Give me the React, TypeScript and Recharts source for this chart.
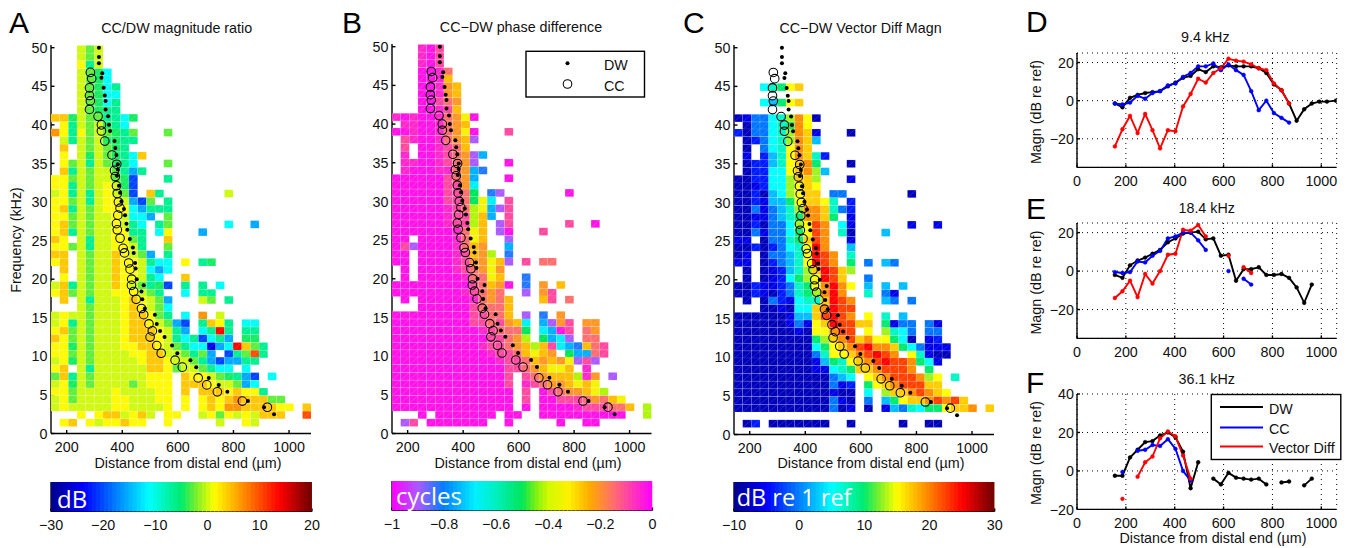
import React from 'react';
import {
  ScatterChart, Scatter, LineChart, Line, XAxis, YAxis, CartesianGrid,
} from 'recharts';

// column centres (um) and row centres (kHz) of the spatial maps
const mapDistances = [159.1, 190.3, 221.5, 252.7, 283.9, 315.1, 346.3, 377.5, 408.7, 439.9, 471.1, 502.3, 533.5, 564.7, 595.9, 627.1, 658.3, 689.5, 720.7, 751.9, 783.1, 814.3, 845.5, 876.7, 907.9, 939.1, 970.3, 1001.5, 1032.7, 1063.9];
const mapFreqs = [49.8, 48.8, 47.8, 46.8, 45.9, 44.9, 43.9, 42.9, 41.9, 40.9, 39.9, 39.0, 38.0, 37.0, 36.0, 35.0, 34.0, 33.0, 32.1, 31.1, 30.1, 29.1, 28.1, 27.1, 26.1, 25.1, 24.2, 23.2, 22.2, 21.2, 20.2, 19.2, 18.2, 17.3, 16.3, 15.3, 14.3, 13.3, 12.3, 11.3, 10.3, 9.4, 8.4, 7.4, 6.4, 5.4, 4.4, 3.4, 2.4, 1.4];

// each row is one frequency, each letter one column; '.' means no data
const magnitudeLevels = { B: -25, b: -20.5, s: -15.5, c: -11, t: -6.5, g: -4.5, l: -2.8, k: 0, y: 1.5, a: 4, o: 6.5, d: 10, r: 13.5 };
const magnitudeRows = [
  '...klk', '...klk', '...ytk', '...klgc', '...klgc', '...klgct', '...klgcc', '...klgct', '...klgtt',
  'aagkllttcg', '.ytklkgtc', 'oytylklgtl...l', '.ktklkggtt', '.a.klklgt', '.y.kgklgtca', '.ylktklgtc...l',
  '.atklkkltst', 'yylklkklgb...t', 'yytklkykgb', 'kytktkyklb.at.......k', 'yylktkyyksbl.t', 'yatklkyyycsttt',
  'yylklkkykccs.l', 'yalklkkyktc.tl......c..s', 'yatklkkyytt.cy...s', 'ay.ktkkyylt..a', 'yylktkkyykt..l',
  'aa.klkkaykls.t', 'ya.klkkayyktcc.y.tg', '.a.klkkayykcsc', '.y.klkkayyktc..a', 'katklkkaykltgb.t.t.c',
  'yalklkkyyyklt..c.tt', '.a.ktkkkyaykls...kl.t', '...klkkkyayklc', 'kykklkkkyaaylt.c.o.k', 'kytklkkkyaayklsb.tayt.cc',
  'yalklkkkyaaaykts.ctrt.tt', 'aylklkkkyaaayktctbcts.gg', 'yygklkkkyyaaykltccBscralt', 'yylklkkkkyyaakkltls.btldt',
  'kygklkkkkkyaaykkltsbsstt', 'ya.ktkkkkkkaaylkkltcc.c', 'latklkkkkkkyyy.ayyklgtsb.c', 'kygklkkkklkyyy.aaaykklsc',
  'yylkkkkykkkkyy.a.aaayayyt', 'kylkkkkyykkkyy.y.yayaoaaall', 'kykkkkkyykkkky.y.yayooaaaayy.a', '...y.yaakyak.yy..kylykykaaa..d',
  '.ya.ykyyayy..y.....k..yk',
];

const phaseLevels = { m: -0.025, p: -0.055, k: -0.1, n: -0.15, o: -0.21, a: -0.26, y: -0.34, l: -0.42, g: -0.5, c: -0.67, s: -0.75, b: -0.82, v: -0.9 };
const phaseRows = [
  '...pmk', '...pmk', '...pmk', '...mmpn', '...mmpa', '...mmpoa', '...mmpoa', '...mmkno', '...mmpka',
  'pmpmmpnoym', '.ppmmpnoa', 'mmpmmpnoym...k', '.kpmmpnoav', '.k.mmpkna', '.p.mmpknovs', '.ppmmpknov...m',
  '.pmmmppnosb', 'mmmmmmknos...m', 'mmmmmmkkoc', 'mmmmmmkkng.bv.......m', 'mmmmmmkkngyc.k', 'mmmmmmpknlysvk',
  'mmmmmmpkklas.k', 'mmmmmmpkkla.vk......k..m', 'mmmmmmmpnya.vm...k', 'mm.mmmmpnya..v', 'mkvmmmmpnao..s',
  'mm.mmmmpkaol.b', 'mm.mmmmpkooyav.k.nn', '.m.mmmmpknoyo', '.m.mmmmmpnnya..b', 'mmmmmmmmmknaom.b.o.a',
  'mmmmmmmmpknon..v.ok', '.m.mmmmmmpnona...ak.n', '...mmmmmmknnna', 'mmmmmmmmmkknna.v.b.o', 'mmmmmmmmmkknkoac.svok.oo',
  'mmmmmmmmmmpknnng.csmk.no', 'mmmmmmmmmmmkknol.gscv.nn', 'mmmmmmmmmmpkknoalakcsbank', 'mmmmmmmmmmmpkknayao.gssnk',
  'mmmmmmmmmmmmpkknaoaoyvkv', 'mmmmmmmmmmmmmkknoayya.p', 'mmmmmmmmmmmmmk.knoaaalpo.v', 'mmmmmmmmmmmmmk.pknooayay',
  'mmmmmmmmmmmmmm.k.mknooayl', 'mmmmmmmmmmmmmm.k.mmkkknonay', 'mmmmmmmmmmmmmm.m.mmmmpkkknna.l', '...m.mmmmmmm.mm..mmmmmmmmmm..l',
  '.vk.mmmmmmm..m.....m..mm',
];

const vectorLevels = { D: -8, B: -6, b: -4, s: -0.4, e: 2.4, c: 5, t: 7, g: 10, l: 13, y: 15, a: 17, o: 19.5, d: 22.5, r: 25 };
const vectorRows = [
  '', '', '', '', '', '...ctgya', '', '...cegya', '',
  'DBssctloyD', '.Dssctgoy', 'bDssctloaB...D', '.Dbsctloae', '.D.sctyoa', '.B.betyoatb', '.Dbbetyaog...D',
  '.Dbbccyaole', 'DDbbcclaal...B', 'DDBbcclyay', 'DDbDeclyaa.ss.......D', 'DDbBeegyaayt.b', 'DDsBsetlooatsb',
  'DDBBsetgooag.B', 'DDbDssclydo.cB......B..B', 'DDsBsscgydo.tD...e', 'BB.Dsstgado..B', 'DDbDbsctyro..e',
  'DB.Dssetyrdo.t', 'BB.Dbsetyrdo.g.s.es', '.D.DBbetlardal', '.D.DBbcglyrda..s', 'DDbBBbstgyoroy.e.e.e',
  'DDbBDbstgloro..t.sB', '.D.DsbBcttardo...es.s', '...DDBDccaordd', 'DDDDDDBeeadrdo.y.t.e', 'DDDDDDBsByarddaa.gBss.sB',
  'DDDDDDDBDyyodd.y.ltcs.ss', 'DDDDDDDDDglaodaoyygcD.Bb', 'DDDDDDDDDcgyaodrooagcsBBB', 'DDDDDDDDDstyyaodrdo.ytBDD',
  'DDDDDDDDDBegtyaodrddogcB', 'DDDDDDDDDBBctgaaodddo.g', 'DDDDDDDDDDDsec.yaodddoly.t', 'DDDDDDDDDDDsBb.gyaodddaa',
  'DDDDDDDDDDDBDD.c.laaodoay', 'DDDDDDDDDDDsBD.s.egyaaododa', 'DDDDDDDDDDDsDB.D.Bestcggyaao.a', '',
  '.Db.DDDDDDD..D.....D..DD',
];

// best frequency places, [distance um, frequency kHz]
const dwPlace = [[316, 50], [316, 48.8], [316, 48], [328, 46.7], [325, 46.1], [333, 44.8], [337, 43.8], [340, 43.1], [340, 42], [349, 41.1], [352, 40], [356, 39.2], [372, 37.9], [375, 37], [379, 36.1], [384, 34.9], [384, 34.2], [381, 33.4], [388, 32.1], [392, 31.2], [397, 30.1], [406, 29.1], [410, 28.3], [415, 27.2], [418, 26.4], [427, 25.2], [438, 24.1], [441, 23.4], [446, 22.1], [448, 21.4], [452, 20], [477, 19.2], [469, 18.4], [472, 17.4], [481, 16.2], [517, 15.4], [524, 14.2], [536, 13.3], [552, 12.5], [579, 11.4], [598, 10.4], [645, 9.5], [666, 8.6], [711, 7.2], [747, 6.3], [778, 5.4], [852, 4.2], [910, 3.4], [946, 2.5]];
const ccPlace = [[285, 46.8], [290, 46], [282, 44.8], [282, 43.8], [285, 43.1], [282, 42], [313, 41.1], [325, 40], [325, 39.2], [337, 37.9], [363, 36.1], [380, 34.9], [372, 34.1], [375, 33.3], [379, 32.1], [382, 31.1], [386, 30], [392, 29.2], [384, 28.3], [379, 27.2], [382, 26.4], [392, 25.3], [403, 24], [408, 23.4], [423, 22.1], [428, 21.3], [434, 20], [433, 19.2], [441, 18.4], [450, 17.4], [469, 16.2], [477, 15.4], [496, 14.2], [508, 13.3], [500, 12.5], [524, 11.4], [540, 10.4], [590, 9.5], [616, 8.6], [673, 7.2], [704, 6.3], [742, 5.4], [832, 4.2], [922, 3.4]];

// magnitude against distance
const distances = [155, 186, 217, 248, 279, 309, 340, 372, 403, 434, 465, 496, 527, 558, 589, 620, 651, 682, 713, 744, 775, 806, 837, 868, 899, 930, 961, 992, 1023, 1060];
const _ = null;
const dw94 = [-1.5, -3.5, 1.5, 3, 4, 4.5, 5, 7.5, 9.5, 12, 13, 16.5, 15, 18, 17.5, 18.5, 18, 18, 18, 17, 14.5, 8.5, 5.5, -1.5, -10.5, -4.5, -1.5, -0.5, -0.5, 0];
const cc94 = [-1.5, -2, -1, 2.5, 1, 4, 5, 8, 9, 12.5, 14.5, 18, 18, 19.5, 16, 19, 16, 13.5, 5, -5, 0, -6.5, -9, -11.5, _, _, _, _, _, _];
const vd94 = [-24, -15, -8, -17, -7, -15.5, -25, -15.5, -16, -3, 3.5, 11.5, 9.5, 14.5, 17, 22, 21, 20.5, 19, 17, 16, 9, 5.5, -1.5, _, _, _, _, _, _];
const dw184 = [-2, -3.5, 3, 5.5, 7, 9, 11, 15, 17, 19.5, 20, 20.5, 16.5, 17, 8, 8.5, -5, 1, 1, 2, -2, -2, -1.5, -3.5, -8.5, -16.5, -7, _, _, _];
const cc184 = [-0.5, -1, -0.5, 5, 4.5, 8, 10.5, 17, 18, 20, 20, 16, 11, _, _, 0, _, -4, -7, _, _, _, _, _, _, _, _, _, _, _];
const vd184 = [-14, -10.5, -5, -13.5, -1.5, -6.5, 0, 8.5, 9, 21.5, 21, 24, 18, _, _, 8, _, 2, -1, _, _, _, _, _, _, _, _, _, _, _];
const dw361 = [-2.5, -2.5, 7, 11, 15, 15.5, 18.5, 20, 17.5, 10, -9, 4.5, _, -4, -7, -1, -3.5, -4, -4.5, -4, -7, _, -6, -5.5, _, -7.5, -4, _, _, _];
const cc361 = [_, -0.5, _, 10.5, 11, 13.5, 13, 16.5, 11.5, 0, -5, _, _, _, _, _, _, _, _, _, _, _, _, _, _, _, _, _, _, _];
const vd361 = [_, -14.5, _, -3, 4.5, 7.5, 17, 20.5, 18, 8, -4, _, _, _, _, _, _, _, _, _, _, _, _, _, _, _, _, _, _, _];

const mapXTicks = [200, 400, 600, 800, 1000];
const mapYTicks = [0, 5, 10, 15, 20, 25, 30, 35, 40, 45, 50];
const lineXTicks = [0, 200, 400, 600, 800, 1000];

const FONT = '"Liberation Sans", Arial, sans-serif';
const INK = '#111';
const CELL_W = 8.667;
const CELL_H = 7.63;

type Stop = [number, number, number, number];
const jetMap: Stop[] = [
  [0, 0, 0, 140], [0.125, 0, 0, 255], [0.25, 0, 128, 255], [0.375, 0, 255, 255], [0.5, 0, 235, 110],
  [0.56, 130, 240, 40], [0.625, 255, 255, 0], [0.75, 255, 128, 0], [0.875, 255, 0, 0], [1, 110, 0, 0],
];
const phaseMap: Stop[] = [
  [0, 255, 0, 255], [0.1, 170, 90, 255], [0.2, 0, 128, 255], [0.32, 0, 240, 255], [0.4, 0, 240, 190],
  [0.5, 0, 230, 90], [0.55, 120, 240, 20], [0.6, 210, 250, 0], [0.68, 255, 240, 0], [0.76, 255, 170, 0],
  [0.85, 255, 110, 110], [0.93, 255, 50, 190], [1, 255, 0, 255],
];

function colorAt(map: Stop[], t: number) {
  const u = Math.max(0, Math.min(1, t));
  let i = 0;
  while (i < map.length - 2 && u > map[i + 1][0]) i++;
  const a = map[i], b = map[i + 1];
  const f = (u - a[0]) / (b[0] - a[0]);
  const c = [1, 2, 3].map((k) => Math.round(a[k] + (b[k] - a[k]) * f));
  return `rgb(${c[0]},${c[1]},${c[2]})`;
}

function buildCells(rows: string[], levels: Record<string, number>) {
  const cells: { x: number; y: number; v: number }[] = [];
  rows.forEach((row, r) => {
    row.split('').forEach((ch, c) => {
      if (ch !== '.') cells.push({ x: mapDistances[c], y: mapFreqs[r], v: levels[ch] });
    });
  });
  return cells;
}

const fmt = (v: number) => String(v).replace('-', '\u2212');
const tickStyle = { fill: INK, fontSize: 14.3, fontFamily: FONT };
const axisLine = { stroke: '#000', strokeWidth: 1.4 };

function box(ticksX: number[], ticksY: number[], domainX: number[], domainY: number[]) {
  return [
    <XAxis key="xt" xAxisId="top" orientation="top" type="number" domain={domainX} ticks={ticksX} interval={0} height={0} tick={false} tickSize={-3.5} axisLine={axisLine} tickLine={axisLine} />,
    <YAxis key="yr" yAxisId="right" orientation="right" type="number" domain={domainY} ticks={ticksY} interval={0} width={0} tick={false} tickSize={-3.5} axisLine={axisLine} tickLine={axisLine} />,
  ];
}

type MapProps = {
  left: number; right: number; top: number; bottom: number;
  rows: string[]; levels: Record<string, number>; cmap: Stop[]; range: number[];
};

function MapPanel({ left, right, top, bottom, rows, levels, cmap, range }: MapProps) {
  const cells = buildCells(rows, levels);
  const xd = [143.5, 1079];
  const yd = [0, 50.35];
  const drawCell = (p: any) => {
    const t = (p.payload.v - range[0]) / (range[1] - range[0]);
    const x = p.cx - CELL_W / 2, y = p.cy - CELL_H / 2;
    return (
      <g>
        <rect x={x} y={y} width={CELL_W} height={CELL_H} fill={colorAt(cmap, t)} stroke="#fff" strokeOpacity={0.2} strokeWidth={0.6} />
        <line x1={x} y1={y + CELL_H} x2={x + CELL_W} y2={y} stroke="#fff" strokeOpacity={0.25} strokeWidth={0.6} />
      </g>
    );
  };
  return (
    <div style={{ position: 'absolute', left: left - 40, top: top - 4 }}>
      <ScatterChart width={right - left + 46} height={bottom - top + 28} margin={{ top: 4, right: 6, left: 0, bottom: 0 }}>
        <XAxis type="number" dataKey="x" domain={xd} ticks={mapXTicks} interval={0} height={24} tickSize={-3.5} tickMargin={12} tick={tickStyle} axisLine={axisLine} tickLine={axisLine} allowDataOverflow />
        <YAxis type="number" dataKey="y" domain={yd} ticks={mapYTicks} interval={0} width={40} tickSize={-3.5} tickMargin={7} tick={tickStyle} axisLine={axisLine} tickLine={axisLine} allowDataOverflow />
        {box(mapXTicks, mapYTicks, xd, yd)}
        <Scatter data={cells} isAnimationActive={false} shape={drawCell} />
        <Scatter
          data={dwPlace.map(([x, y]) => ({ x, y }))}
          isAnimationActive={false}
          shape={(p: any) => <circle cx={p.cx} cy={p.cy} r={2} fill="#000" />}
        />
        <Scatter
          data={ccPlace.map(([x, y]) => ({ x, y }))}
          isAnimationActive={false}
          shape={(p: any) => <circle cx={p.cx} cy={p.cy} r={4.3} fill="none" stroke="#000" strokeWidth={1.05} />}
        />
      </ScatterChart>
    </div>
  );
}

type BarProps = { left: number; right: number; top: number; bottom: number; cmap: Stop[]; range: number[]; ticks: number[] };

function ColorBar({ left, right, top, bottom, cmap, range, ticks }: BarProps) {
  const n = 64;
  const w = (right - left) / n;
  const h = bottom - top;
  const bands = Array.from({ length: n }, (_x, i) => ({ x: range[0] + ((i + 0.5) / n) * (range[1] - range[0]), y: 0.5, t: (i + 0.5) / n }));
  return (
    <div style={{ position: 'absolute', left: left - 30, top: top - 4 }}>
      <ScatterChart width={right - left + 60} height={h + 28} margin={{ top: 4, right: 30, left: 0, bottom: 0 }}>
        <XAxis type="number" dataKey="x" domain={range} ticks={ticks} interval={0} height={24} tickSize={-3} tickMargin={11.5} tick={tickStyle} tickFormatter={fmt} axisLine={axisLine} tickLine={axisLine} allowDataOverflow />
        <YAxis type="number" dataKey="y" domain={[0, 1]} ticks={[]} width={30} tick={false} axisLine={axisLine} tickLine={false} />
        <Scatter
          data={bands}
          isAnimationActive={false}
          shape={(p: any) => <rect x={p.cx - w / 2} y={p.cy - h / 2} width={p.payload.t > 0.99 ? w : w + 1} height={h} fill={colorAt(cmap, p.payload.t)} />}
        />
        <XAxis xAxisId="top" orientation="top" type="number" domain={range} ticks={ticks} interval={0} height={0} tick={false} tickSize={-3} axisLine={axisLine} tickLine={axisLine} />
        <YAxis yAxisId="right" orientation="right" type="number" domain={[0, 1]} ticks={[]} width={0} tick={false} axisLine={axisLine} tickLine={false} />
      </ScatterChart>
    </div>
  );
}

type MagnProps = { top: number; bottom: number; dw: (number | null)[]; cc: (number | null)[]; vd: (number | null)[]; domain: number[]; yTicks: number[] };

function MagnPanel({ top, bottom, dw, cc, vd, domain, yTicks }: MagnProps) {
  const table = distances.map((x, i) => ({ x, dw: dw[i], cc: cc[i], vd: vd[i] }));
  const series: [string, string][] = [['dw', '#000'], ['cc', '#0000ff'], ['vd', '#ff0000']];
  return (
    <div style={{ position: 'absolute', left: 1037, top: top - 10 }}>
      <LineChart data={table} width={304} height={bottom - top + 34} margin={{ top: 10, right: 4.3, left: 0, bottom: 0 }}>
        <CartesianGrid stroke="#000" strokeDasharray="1 4" strokeWidth={1} />
        <XAxis type="number" dataKey="x" domain={[0, 1063]} ticks={lineXTicks} interval={0} height={24} tickSize={-3} tickMargin={11.5} tick={tickStyle} axisLine={axisLine} tickLine={axisLine} allowDataOverflow />
        <YAxis type="number" domain={domain} ticks={yTicks} interval={0} width={40} tickSize={-3} tickMargin={6} tick={tickStyle} tickFormatter={fmt} axisLine={axisLine} tickLine={axisLine} allowDataOverflow />
        {series.map(([key, color]) => (
          <Line
            key={key}
            dataKey={key}
            stroke={color}
            strokeWidth={1.9}
            connectNulls={false}
            isAnimationActive={false}
            dot={{ r: 1.9, fill: color, stroke: color, strokeWidth: 0.5 }}
          />
        ))}
      </LineChart>
    </div>
  );
}

const T = ({ x, y, size = 14.3, anchor = 'middle', fill = INK, family = FONT, rotate, children }: any) => (
  <text
    x={x}
    y={y}
    fontSize={size}
    textAnchor={anchor}
    fill={fill}
    fontFamily={family}
    transform={rotate ? `rotate(${rotate} ${x} ${y})` : undefined}
  >
    {children}
  </text>
);

const CB_FONT = '"Open Sans", sans-serif';
const XLABEL = 'Distance from distal end (\u00b5m)';

export default function App() {
  return (
    <div style={{ position: 'absolute', left: 0, top: 0, width: 1352, height: 548, background: '#fff', overflow: 'hidden' }}>
      <MapPanel left={51} right={311} top={45} bottom={433.5} rows={magnitudeRows} levels={magnitudeLevels} cmap={jetMap} range={[-30, 20]} />
      <MapPanel left={391.5} right={651} top={44} bottom={433.5} rows={phaseRows} levels={phaseLevels} cmap={phaseMap} range={[-1, 0]} />
      <MapPanel left={734.3} right={994.3} top={44.5} bottom={434} rows={vectorRows} levels={vectorLevels} cmap={jetMap} range={[-10, 30]} />

      <ColorBar left={51} right={312} top={482.3} bottom={511.7} cmap={jetMap} range={[-30, 20]} ticks={[-30, -20, -10, 0, 10, 20]} />
      <ColorBar left={391.5} right={652} top={481.3} bottom={510.7} cmap={phaseMap} range={[-1, 0]} ticks={[-1, -0.8, -0.6, -0.4, -0.2, 0]} />
      <ColorBar left={734.3} right={995} top={482.3} bottom={511.7} cmap={jetMap} range={[-10, 30]} ticks={[-10, 0, 10, 20, 30]} />

      <MagnPanel top={53.3} bottom={167.7} dw={dw94} cc={cc94} vd={vd94} domain={[-35, 25]} yTicks={[-20, 0, 20]} />
      <MagnPanel top={223.3} bottom={338.7} dw={dw184} cc={cc184} vd={vd184} domain={[-35, 25]} yTicks={[-20, 0, 20]} />
      <MagnPanel top={394.3} bottom={509.7} dw={dw361} cc={cc361} vd={vd361} domain={[-20, 40]} yTicks={[0, 20, 40]} />

      <svg width={1352} height={548} style={{ position: 'absolute', left: 0, top: 0, pointerEvents: 'none' }}>
        <T x={9} y={32.7} size={30} anchor="start" fill="#000">A</T>
        <T x={342} y={32.7} size={30} anchor="start" fill="#000">B</T>
        <T x={683} y={32.7} size={30} anchor="start" fill="#000">C</T>
        <T x={1026} y={32} size={30} anchor="start" fill="#000">D</T>
        <T x={1026} y={219} size={30} anchor="start" fill="#000">E</T>
        <T x={1026} y={393} size={30} anchor="start" fill="#000">F</T>

        <T x={176.7} y={32.7}>CC/DW magnitude ratio</T>
        <T x={521} y={32}>CC{'\u2212'}DW phase difference</T>
        <T x={860.5} y={32.5}>CC{'\u2212'}DW Vector Diff Magn</T>
        <T x={188} y={468}>{XLABEL}</T>
        <T x={528} y={468}>{XLABEL}</T>
        <T x={871} y={468}>{XLABEL}</T>
        <T x={21} y={240} rotate={-90}>Frequency (kHz)</T>

        <T x={1205.3} y={42}>9.4 kHz</T>
        <T x={1206.7} y={212.7}>18.4 kHz</T>
        <T x={1206.7} y={384}>36.1 kHz</T>
        <T x={1041} y={112} rotate={-90}>Magn (dB re ref)</T>
        <T x={1041} y={282.5} rotate={-90}>Magn (dB re ref)</T>
        <T x={1041} y={453} rotate={-90}>Magn (dB re ref)</T>
        <T x={1213} y={543}>{XLABEL}</T>
        {/* bottom tick label of panel F */}
        <T x={1074} y={514.7} anchor="end">{'\u2212'}20</T>

        <T x={57} y={508} size={24} anchor="start" fill="#fff" family={CB_FONT}>dB</T>
        <T x={396} y={505} size={24} anchor="start" fill="#fff" family={CB_FONT}>cycles</T>
        <T x={736.7} y={506} size={23.5} anchor="start" fill="#fff" family={CB_FONT}>dB re 1 ref</T>

        {/* legend of panel B */}
        <rect x={526} y={51.3} width={118.5} height={45.7} fill="#fff" stroke="#000" strokeWidth={1.4} />
        <circle cx={567.5} cy={63.3} r={2} fill="#000" />
        <circle cx={567.5} cy={84} r={4.3} fill="none" stroke="#000" strokeWidth={1.05} />
        <T x={604} y={70} anchor="start">DW</T>
        <T x={604} y={91} anchor="start">CC</T>

        {/* legend of panel F */}
        <rect x={1211.3} y={394.5} width={129.5} height={65} fill="#fff" stroke="#000" strokeWidth={1.4} />
        <line x1={1220} x2={1263} y1={407} y2={407} stroke="#000" strokeWidth={1.9} />
        <line x1={1220} x2={1263} y1={427.5} y2={427.5} stroke="#0000ff" strokeWidth={1.9} />
        <line x1={1220} x2={1263} y1={446.5} y2={446.5} stroke="#ff0000" strokeWidth={1.9} />
        <T x={1269} y={414} anchor="start">DW</T>
        <T x={1269} y={434} anchor="start">CC</T>
        <T x={1269} y={453} anchor="start">Vector Diff</T>
      </svg>
    </div>
  );
}
